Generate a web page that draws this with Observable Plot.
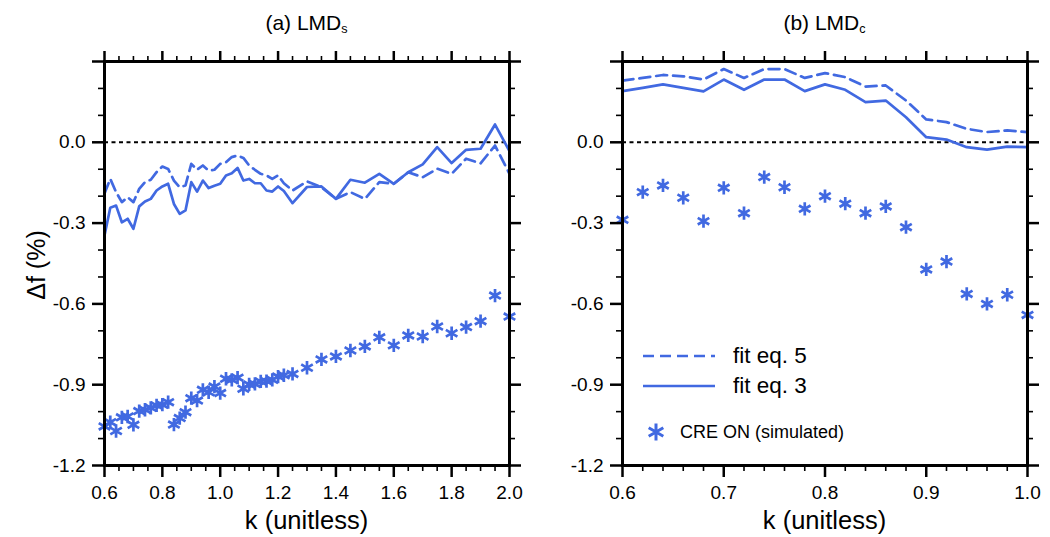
<!DOCTYPE html>
<html>
<head>
<meta charset="utf-8">
<script src="https://cdn.jsdelivr.net/npm/d3@7"></script>
<script src="https://cdn.jsdelivr.net/npm/@observablehq/plot@0.6"></script>
<style>
  html, body { margin: 0; padding: 0; background: #fff; }
  #wrap { position: relative; width: 1050px; height: 537px; background: #fff;
          font-family: "Liberation Sans", Arial, Helvetica, sans-serif; color: #000; overflow: hidden; }
  .lbl { position: absolute; white-space: nowrap; line-height: 1; }
</style>
</head>
<body>
<div id="wrap"></div>
<script>
// ---------------- data ----------------
const kLeft = [0.60,0.62,0.64,0.66,0.68,0.70,0.72,0.74,0.76,0.78,0.80,0.82,0.84,0.86,0.88,0.90,0.92,0.94,0.96,0.98,
  1.00,1.02,1.04,1.06,1.08,1.10,1.12,1.14,1.16,1.18,1.20,1.22,1.25,1.30,1.35,1.40,1.45,1.50,1.55,1.60,1.65,1.70,
  1.75,1.80,1.85,1.90,1.95,2.00];
const fit3Left = [-0.346,-0.243,-0.235,-0.297,-0.284,-0.321,-0.238,-0.220,-0.210,-0.179,-0.164,-0.154,-0.229,-0.266,
  -0.253,-0.148,-0.183,-0.142,-0.170,-0.161,-0.154,-0.123,-0.115,-0.095,-0.142,-0.136,-0.152,-0.152,-0.179,-0.183,
  -0.164,-0.181,-0.226,-0.166,-0.164,-0.210,-0.139,-0.150,-0.117,-0.154,-0.111,-0.082,-0.018,-0.077,-0.028,-0.024,
  0.066,-0.033];
const fit5Left = [-0.190,-0.136,-0.185,-0.222,-0.204,-0.222,-0.173,-0.148,-0.139,-0.111,-0.090,-0.099,-0.142,-0.167,
  -0.160,-0.080,-0.102,-0.086,-0.105,-0.102,-0.080,-0.074,-0.055,-0.049,-0.058,-0.086,-0.102,-0.117,-0.123,-0.136,
  -0.123,-0.152,-0.179,-0.145,-0.167,-0.210,-0.185,-0.210,-0.148,-0.154,-0.111,-0.130,-0.098,-0.117,-0.061,-0.078,
  -0.012,-0.117];
const creLeft = [-1.055,-1.039,-1.072,-1.021,-1.018,-1.049,-0.998,-0.993,-0.986,-0.977,-0.974,-0.965,-1.048,-1.024,
  -1.002,-0.950,-0.959,-0.919,-0.928,-0.907,-0.931,-0.878,-0.882,-0.874,-0.915,-0.899,-0.897,-0.888,-0.887,-0.882,
  -0.870,-0.865,-0.860,-0.837,-0.806,-0.795,-0.773,-0.758,-0.724,-0.754,-0.717,-0.721,-0.684,-0.709,-0.686,-0.664,
  -0.569,-0.647];

const kRight = [0.60,0.62,0.64,0.66,0.68,0.70,0.72,0.74,0.76,0.78,0.80,0.82,0.84,0.86,0.88,0.90,0.92,0.94,0.96,0.98,1.00];
const fit3Right = [0.190,0.202,0.215,0.202,0.189,0.233,0.195,0.233,0.233,0.190,0.215,0.195,0.149,0.155,0.093,0.019,
  0.010,-0.018,-0.027,-0.016,-0.018];
const fit5Right = [0.229,0.239,0.250,0.245,0.233,0.272,0.239,0.272,0.272,0.239,0.257,0.242,0.207,0.211,0.155,0.085,
  0.075,0.050,0.038,0.044,0.038];
const creRight = [-0.288,-0.185,-0.160,-0.206,-0.293,-0.169,-0.263,-0.129,-0.167,-0.247,-0.200,-0.228,-0.263,-0.238,
  -0.315,-0.472,-0.443,-0.563,-0.600,-0.566,-0.641];

// ticks
const xMajorLeft = [0.6,0.8,1.0,1.2,1.4,1.6,1.8,2.0];
const xMinorLeft = [0.65,0.7,0.75,0.85,0.9,0.95,1.05,1.1,1.15,1.25,1.3,1.35,1.45,1.5,1.55,1.65,1.7,1.75,1.85,1.9,1.95];
const xMajorRight = [0.6,0.7,0.8,0.9,1.0];
const xMinorRight = [0.62,0.64,0.66,0.68,0.72,0.74,0.76,0.78,0.82,0.84,0.86,0.88,0.92,0.94,0.96,0.98];
const yLabeled = [-1.2,-0.9,-0.6,-0.3,0.0];
const yMajor = [-1.2,-0.9,-0.6,-0.3,0.0,0.3];
const yMinor = [-1.1,-1.0,-0.8,-0.7,-0.5,-0.4,-0.2,-0.1,0.1,0.2];

const titles = ["(a) LMD", "(b) LMD"];
const titleSubs = ["s", "c"];
const xLabel = "k (unitless)";
const yLabel = "Δf (%)";
const legendLabels = ["fit eq. 5", "fit eq. 3", "CRE ON (simulated)"];

// ---------------- drawing ----------------
const blue = "#4169e1";
const fmt = d => d.toFixed(1);
const none = () => "";

function table(k, a, b, c) {
  return k.map((v, i) => ({k: v, fit3: a[i], fit5: b[i], cre: c[i]}));
}

function panel(data, xDomain, xMajor, xMinor, margins) {
  return Plot.plot({
    width: 525, height: 537,
    marginLeft: margins[0], marginRight: margins[1], marginTop: 61, marginBottom: 72,
    x: {domain: xDomain, label: null},
    y: {domain: [-1.2, 0.3], label: null},
    style: {fontFamily: '"Liberation Sans", Arial, Helvetica, sans-serif', fontSize: "19px", color: "#000", background: "transparent", overflow: "visible"},
    marks: [
      Plot.ruleY([0], {stroke: "#000", strokeWidth: 2, strokeDasharray: "4,3.5"}),
      Plot.line(data, {x: "k", y: "fit5", stroke: blue, strokeWidth: 2.7, strokeDasharray: "11,6"}),
      Plot.line(data, {x: "k", y: "fit3", stroke: blue, strokeWidth: 2.7}),
      Plot.dot(data, {x: "k", y: "cre", symbol: "asterisk", r: 6.3, stroke: blue, strokeWidth: 2.7}),
      Plot.axisX({anchor: "bottom", ticks: xMajor, tickSize: 12, tickPadding: 8, tickFormat: fmt, strokeWidth: 2.5, label: null}),
      Plot.axisX({anchor: "bottom", ticks: xMinor, tickSize: 6, tickFormat: none, strokeWidth: 1.6, label: null}),
      Plot.axisX({anchor: "top", ticks: xMajor, tickSize: 11, tickFormat: none, strokeWidth: 2.5, label: null}),
      Plot.axisX({anchor: "top", ticks: xMinor, tickSize: 6, tickFormat: none, strokeWidth: 1.6, label: null}),
      Plot.axisY({anchor: "left", ticks: yLabeled, tickSize: 12, tickPadding: 7, tickFormat: fmt, strokeWidth: 2.5, label: null}),
      Plot.axisY({anchor: "left", ticks: [0.3], tickSize: 12, tickFormat: none, strokeWidth: 2.5, label: null}),
      Plot.axisY({anchor: "left", ticks: yMinor, tickSize: 6, tickFormat: none, strokeWidth: 1.6, label: null}),
      Plot.axisY({anchor: "right", ticks: yMajor, tickSize: 11, tickFormat: none, strokeWidth: 2.5, label: null}),
      Plot.axisY({anchor: "right", ticks: yMinor, tickSize: 5, tickFormat: none, strokeWidth: 1.6, label: null}),
      Plot.frame({stroke: "#000", strokeWidth: 3})
    ]
  });
}

const wrap = document.getElementById("wrap");
const left = panel(table(kLeft, fit3Left, fit5Left, creLeft), [0.6, 2.0], xMajorLeft, xMinorLeft, [104, 16]);
left.style.position = "absolute";
left.style.left = "0px";
left.style.top = "0px";
wrap.appendChild(left);
const right = panel(table(kRight, fit3Right, fit5Right, creRight), [0.6, 1.0], xMajorRight, xMinorRight, [97, 23]);
right.style.position = "absolute";
right.style.left = "525px";
right.style.top = "0px";
wrap.appendChild(right);

function addLabel(html, x, y, size, opts = {}) {
  const d = document.createElement("div");
  d.className = "lbl";
  d.innerHTML = html;
  d.style.fontSize = size + "px";
  d.style.left = x + "px";
  d.style.top = y + "px";
  d.style.transform = opts.transform || "translate(-50%, -50%)";
  wrap.appendChild(d);
  return d;
}

// titles
const centers = [306.5, 824.5];
titles.forEach((t, i) => {
  addLabel(t + '<sub style="font-size:0.6em;vertical-align:-0.25em">' + titleSubs[i] + '</sub>', centers[i], 24, 21);
  addLabel(xLabel, centers[i], 521, 25.5);
});
addLabel(yLabel, 36, 265, 25, {transform: "translate(-50%, -50%) rotate(-90deg)"});

// legend
const leg = d3.select(wrap).append("svg")
  .attr("width", 1050).attr("height", 537)
  .style("position", "absolute").style("left", "0px").style("top", "0px");
leg.append("line").attr("x1", 643).attr("x2", 715).attr("y1", 356).attr("y2", 356)
  .attr("stroke", blue).attr("stroke-width", 2.7).attr("stroke-dasharray", "11,6");
leg.append("line").attr("x1", 643).attr("x2", 715).attr("y1", 386).attr("y2", 386)
  .attr("stroke", blue).attr("stroke-width", 2.7);
leg.append("path").attr("transform", "translate(656,432)")
  .attr("d", d3.symbol(d3.symbolAsterisk, Math.PI * 64)())
  .attr("stroke", blue).attr("stroke-width", 3).attr("fill", "none");
addLabel(legendLabels[0], 733, 356, 22.5, {transform: "translate(0, -50%)"});
addLabel(legendLabels[1], 733, 386, 22.5, {transform: "translate(0, -50%)"});
addLabel(legendLabels[2], 680, 432, 18, {transform: "translate(0, -50%)"});
</script>
</body>
</html>
